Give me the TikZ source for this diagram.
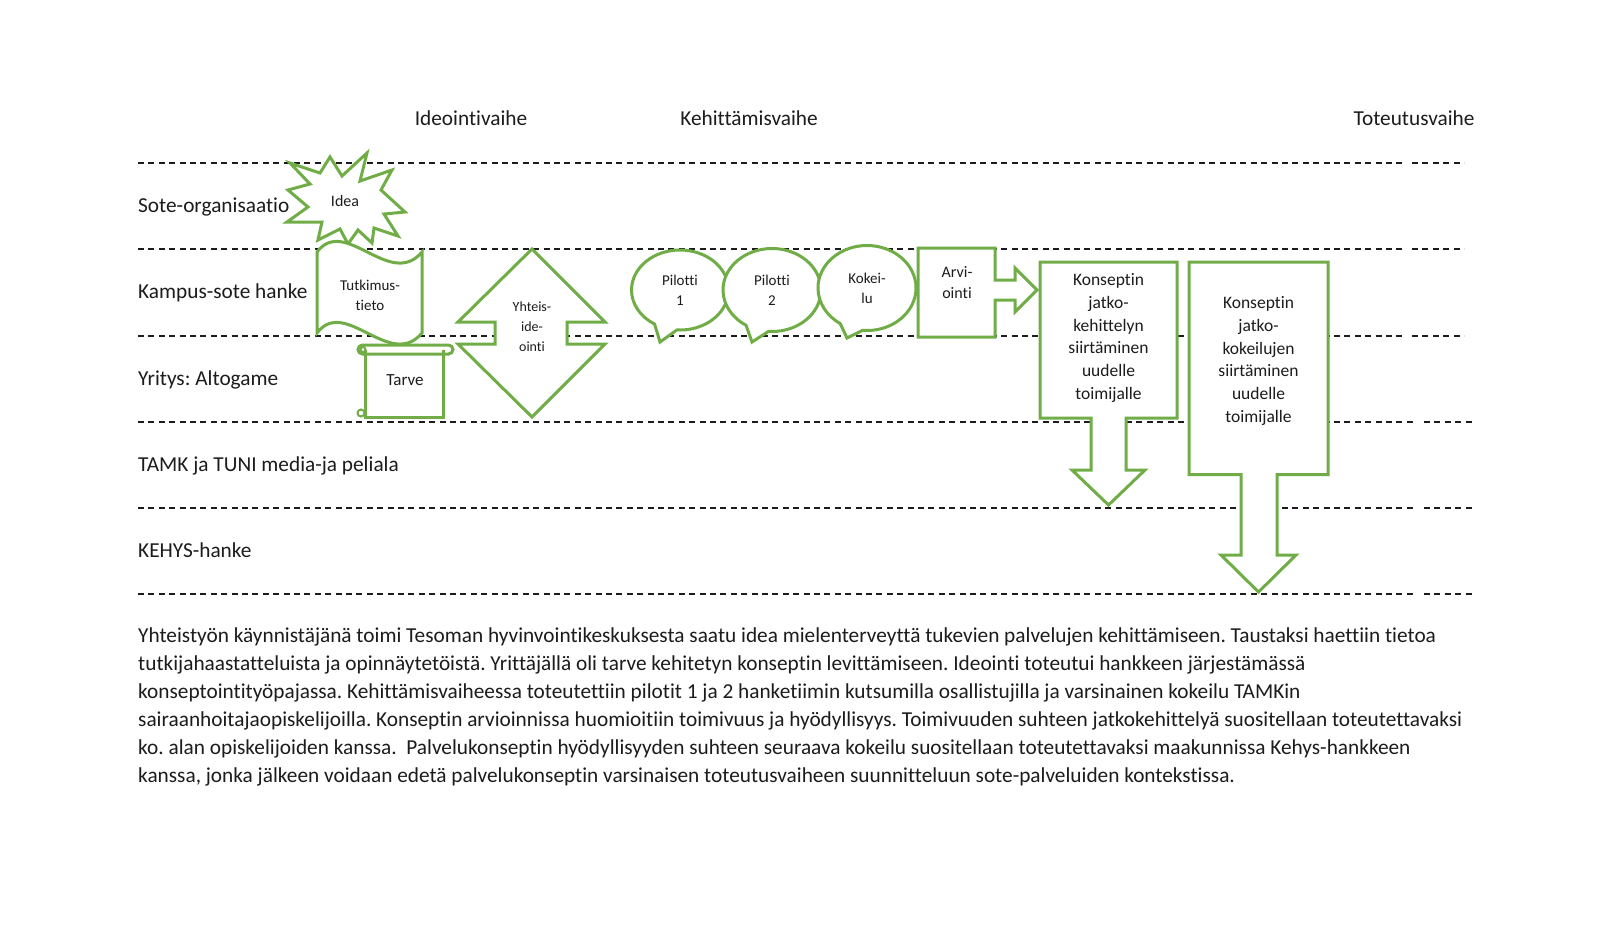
\documentclass[tikz,border=0pt]{standalone}
\usepackage{fontspec}
\setmainfont{Carlito}[Ligatures={NoCommon}]
\usetikzlibrary{shapes.callouts}
\definecolor{grn}{RGB}{112,173,71}
\definecolor{ink}{RGB}{28,28,28}
\frenchspacing

\begin{document}
\begin{tikzpicture}[x=1pt,y=-1pt,
  every node/.style={text=ink,inner sep=0pt},
  big/.style={font=\fontsize{21.3}{28}\selectfont},
  small/.style={font=\fontsize{15}{20}\selectfont,align=center},
  boxtxt/.style={font=\fontsize{17.5}{22.7}\selectfont,align=center},
  shp/.style={draw=grn,line width=3pt,fill=white},
  lane/.style={draw=ink,line width=1.7pt,dash pattern=on 6pt off 4.4pt},
  bubble/.style={shp,ellipse callout,callout pointer arc=28,small}]

\fill[white] (0,0) rectangle (1600,938);

% vaiheet
\node[big,anchor=base] (ideo) at (471,125) {Ideointivaihe};
\node[big,anchor=base] (kehi) at (749,125) {Kehittämisvaihe};
\node[big,anchor=base] (tote) at (1414,125) {Toteutusvaihe};

% kaistat
\foreach \y/\g/\e in {163/1405/1464,249/1405/1464,336/1405/1464,422/1417/1475,508/1417/1475,594/1417/1475}{
\draw[lane] (138,\y) -- (\g,\y) (\g+7,\y) -- (\e,\y);
}
\foreach \y/\t/\n in {212.5/Sote-organisaatio/sote,298.5/Kampus-sote hanke/kamp,385/Yritys: Altogame/yrit,471/TAMK ja TUNI media-ja peliala/tamk,557/KEHYS-hanke/kehys}{
\node[big,anchor=base west] (\n) at (138,\y) {\t};
}

% ideointi
\draw[shp] (367,153) -- (360,181) -- (392,170) -- (381,190) -- (405,212) -- (384,214)
  -- (398,236) -- (374,228) -- (372,243) -- (358,230) -- (348,244) -- (340,229)
  -- (318,240) -- (322,222) -- (287,222) -- (308,207) -- (288,190) -- (310,184)
  -- (290,163) -- (320,173) -- (330,157) -- (342,176) -- cycle;
\node[font=\fontsize{16}{19}\selectfont] (idea) at (345,201) {Idea};

\draw[shp] (317,252) .. controls (345,215) and (390,290) .. (422,252) -- (422,333)
  .. controls (390,371) and (345,296) .. (317,333) -- cycle;
\node[small] (tutk) at (370,295) {Tutkimus-\\tieto};

\begin{scope}[shp]
\draw (443,350) -- (443,417) -- (365,417) -- (365,350);
\draw[rounded corners=4.5pt] (358,345) rectangle (453,354);
\draw[line width=2pt] (363,349.5) circle (2.5pt);
\draw[line width=2pt] (361,413) circle (3.5pt);
\end{scope}
\node[font=\fontsize{17}{20}\selectfont] (tarve) at (405,380) {Tarve};

\draw[shp] (532,249) -- (605,322) -- (567,322) -- (567,344) -- (605,344) -- (532,417)
  -- (458,344) -- (495,344) -- (495,322) -- (458,322) -- cycle;
\node[font=\fontsize{14}{20}\selectfont,align=center] (yht) at (532,327) {Yhteis-\\ide-\\ointi};

% kehittaminen
\node[bubble,minimum width=97pt,minimum height=80pt,callout absolute pointer={(660,342)}] (p1) at (680,290) {Pilotti\\1};
\node[bubble,minimum width=98pt,minimum height=83pt,callout absolute pointer={(752,342)}] (p2) at (772,290) {Pilotti\\2};
\node[bubble,minimum width=98pt,minimum height=85pt,callout absolute pointer={(847,338)}] (koke) at (867,288) {Kokei-\\lu};

\draw[shp] (918,248) -- (995,248) -- (995,280) -- (1015,280) -- (1015,268) -- (1037,290)
  -- (1015,312) -- (1015,300) -- (995,300) -- (995,337) -- (918,337) -- cycle;
\node[font=\fontsize{16}{21}\selectfont,align=center] (arvi) at (957,283) {Arvi-\\ointi};

% toteutus
\draw[shp] (1040,262) -- (1177,262) -- (1177,418) -- (1126,418) -- (1126,470) -- (1145,470)
  -- (1108.5,505) -- (1072,470) -- (1091,470) -- (1091,418) -- (1040,418) -- cycle;
\node[boxtxt] (jatkokeh) at (1108.5,338) {Konseptin\\jatko-\\kehittelyn\\siirtäminen\\uudelle\\toimijalle};

\draw[shp] (1189,262) -- (1328,262) -- (1328,474.5) -- (1277,474.5) -- (1277,555) -- (1296,555)
  -- (1258.5,592) -- (1221,555) -- (1241,555) -- (1241,474.5) -- (1189,474.5) -- cycle;
\node[boxtxt] (jatkokok) at (1258.5,361) {Konseptin\\jatko-\\kokeilujen\\siirtäminen\\uudelle\\toimijalle};

% selite
\foreach \t [count=\i] in {
{Yhteistyön käynnistäjänä toimi Tesoman hyvinvointikeskuksesta saatu idea mielenterveyttä tukevien palvelujen kehittämiseen. Taustaksi haettiin tietoa},
{tutkijahaastatteluista ja opinnäytetöistä. Yrittäjällä oli tarve kehitetyn konseptin levittämiseen. Ideointi toteutui hankkeen järjestämässä},
{konseptointityöpajassa. Kehittämisvaiheessa toteutettiin pilotit 1 ja 2 hanketiimin kutsumilla osallistujilla ja varsinainen kokeilu TAMKin},
{sairaanhoitajaopiskelijoilla. Konseptin arvioinnissa huomioitiin toimivuus ja hyödyllisyys. Toimivuuden suhteen jatkokehittelyä suositellaan toteutettavaksi},
{ko. alan opiskelijoiden kanssa.~ Palvelukonseptin hyödyllisyyden suhteen seuraava kokeilu suositellaan toteutettavaksi maakunnissa Kehys-hankkeen},
{kanssa, jonka jälkeen voidaan edetä palvelukonseptin varsinaisen toteutusvaiheen suunnitteluun sote-palveluiden kontekstissa.}}{
\node[big,anchor=base west] (rivi\i) at (138,642.7+28*\i-28) {\t};
}
\end{tikzpicture}
\end{document}
